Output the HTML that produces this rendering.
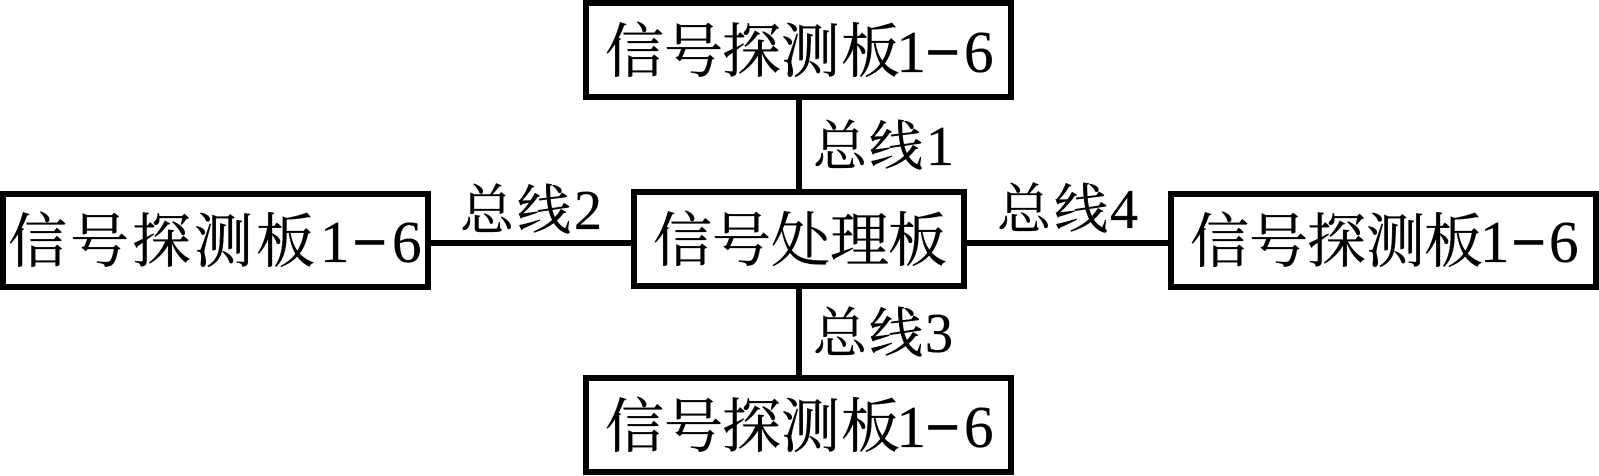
<!DOCTYPE html>
<html>
<head>
<meta charset="utf-8">
<style>
html,body{margin:0;padding:0;background:#fff;width:1599px;height:476px;overflow:hidden}
svg{display:block}
text{font-family:"Liberation Serif","Noto Serif CJK SC",serif;fill:#000;stroke:#000;stroke-width:.35px}
.b{font-size:59px}
.l{font-size:54px}
.d{font-size:56px}
.m{stroke-width:1.6px}
</style>
</head>
<body>
<svg width="1599" height="476" viewBox="0 0 1599 476" xmlns="http://www.w3.org/2000/svg">
<g fill="#000">
<rect x="796" y="98" width="6" height="93"/>
<rect x="796" y="287" width="6" height="90"/>
<rect x="429" y="240" width="204" height="6"/>
<rect x="965" y="240" width="205" height="6"/>
</g>
<g fill="#fff" stroke="#000" stroke-width="6">
<rect x="586" y="3" width="425" height="94"/>
<rect x="586" y="378" width="425" height="94"/>
<rect x="3" y="194" width="425" height="93"/>
<rect x="1171" y="194" width="425" height="93"/>
<rect x="634" y="192" width="330" height="94"/>
</g>
<text class="b" x="605 664 722 781 841 896.5" y="72">信号探测板1<tspan class="m" x="926">−</tspan><tspan x="964">6</tspan></text>
<text class="b" x="605 664 722 781 841 896.5" y="447">信号探测板1<tspan class="m" x="926">−</tspan><tspan x="964">6</tspan></text>
<text class="b" x="8 70 132 194 256 320" y="262">信号探测板1<tspan class="m" x="353">−</tspan><tspan x="392">6</tspan></text>
<text class="b" x="1190 1249 1307 1366 1424 1480" y="262">信号探测板1<tspan class="m" x="1512">−</tspan><tspan x="1549">6</tspan></text>
<text class="b" x="653 712 771 830 888" y="261">信号处理板</text>
<text class="l" x="813 869" y="165">总线<tspan class="d" x="926">1</tspan></text>
<text class="l" x="813 869" y="352">总线<tspan class="d" x="925">3</tspan></text>
<text class="l" x="460 517" y="229">总线<tspan class="d" x="574">2</tspan></text>
<text class="l" x="997 1054" y="228">总线<tspan class="d" x="1110">4</tspan></text>
</svg>
</body>
</html>
